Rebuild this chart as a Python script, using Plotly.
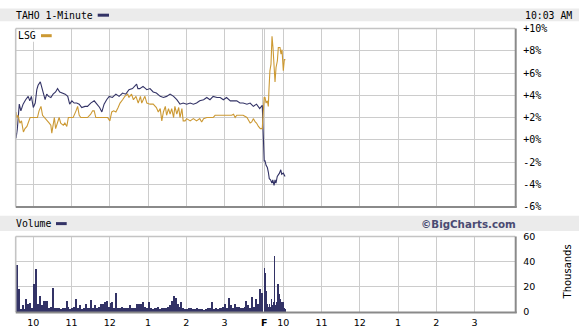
import plotly.graph_objects as go

# ---------------- data ----------------
# x = minutes since Thursday 9:30 (Friday 9:30 = 392)
taho_min = [2.5, 3, 5, 8, 10.5, 14, 18, 22, 24.5, 27, 30, 33, 35.5, 37.5, 41, 43, 46, 48.5, 51, 54,
            57.5, 61, 65, 68, 71.5, 76, 80, 84, 87, 90.5, 94, 98, 102, 106, 111, 115, 120, 125.5, 130,
            134, 137.5, 141, 145, 149, 154, 159.5, 164.5, 170, 175, 180, 185.5, 189, 192, 194, 197,
            202, 208, 213, 218, 223, 229, 234, 239, 244.5, 250, 255, 260, 265, 270.5, 276, 281, 286,
            291, 297, 302, 307, 312, 318, 323, 328, 333, 339, 344, 349, 354, 359, 365, 370, 375, 380,
            385, 389,
            392, 393.3, 395, 397, 398.5, 400, 402, 404, 405.5, 407.5, 409, 410.5, 412.5, 414, 416,
            418, 419.5, 422, 424.7]
taho_pct = [0.6, 0.14, 1.0, 3.2, 2.6, 3.2, 3.6, 3.9, 3.5, 3.9, 2.9, 3.3, 4.5, 4.9, 5.2, 4.8, 4.1, 3.6,
            4.1, 3.9, 3.8, 4.1, 4.3, 4.6, 4.3, 4.2, 4.1, 3.9, 3.2, 3.5, 3.3, 3.3, 3.2, 2.9, 3.0, 3.0,
            3.3, 3.5, 3.2, 2.9, 2.5, 3.2, 3.6, 3.9, 3.8, 4.1, 3.9, 4.2, 4.1, 4.5, 4.6, 4.8, 5.0, 4.6,
            4.6, 4.8, 4.5, 4.6, 4.3, 4.2, 3.9, 3.8, 3.9, 4.1, 3.9, 3.6, 3.2, 3.3, 3.2, 3.3, 3.2, 3.3,
            3.5, 3.6, 3.8, 3.6, 3.9, 3.8, 3.8, 3.6, 3.8, 3.5, 3.5, 3.5, 3.3, 3.3, 3.2, 3.3, 3.0, 3.2,
            2.8, 3.1,
            -1.9, -1.9, -2.3, -2.5, -2.9, -3.5, -3.6, -3.9, -3.6, -4.1, -3.6, -3.9, -3.3, -3.2, -3.0,
            -2.7, -3.1, -3.0, -3.3]

lsg_min = [2.5, 3, 4, 6, 9, 11.5, 14.5, 17, 20, 22.5, 25, 29, 32.5, 36.5, 39, 42, 44.5, 47, 49.5, 52,
           55, 57.5, 59, 61, 63, 65, 68, 70.5, 73, 77, 79.5, 82.5, 85, 89, 92.5, 97, 99.5, 102, 104.5,
           110, 115, 120, 123, 125.5, 128, 133, 141, 146.5, 150, 153, 156, 159.5, 163, 166, 170,
           173.5, 178, 180, 184, 187, 191, 194.5, 198, 200, 204, 205, 208, 213, 218, 223, 226, 229,
           231.5, 234, 237, 239, 242, 244.5, 247, 250, 252, 255, 258, 260, 263, 265, 268, 270.5, 276,
           281, 286, 291, 294, 297, 302, 312, 315, 320, 328, 333, 341, 344, 346.5, 349, 354, 359, 365,
           370, 372.5, 375, 378, 380, 383, 386, 389,
           392, 393.3, 395, 397, 398.5, 399.5, 401, 402.7, 404.3, 405.8, 407.4, 409, 410.6, 412.7,
           414.2, 416.8, 418.4, 420, 422, 423.6, 425.2]
lsg_pct = [1.3, 2.5, 2.0, 2.2, 1.5, 1.7, 0.7, 1.0, 1.2, 1.7, 2.0, 2.0, 2.0, 2.0, 2.6, 3.0, 2.2, 2.0, 1.9,
           1.7, 1.5, 1.3, 0.6, 1.5, 2.0, 1.0, 1.7, 2.0, 1.5, 1.3, 1.5, 1.2, 2.0, 2.0, 2.0, 2.6, 3.0,
           2.2, 2.0, 2.0, 2.0, 2.3, 2.6, 2.6, 2.0, 2.0, 2.0, 2.0, 1.7, 2.5, 2.6, 2.5, 2.9, 3.3, 3.6,
           3.9, 4.1, 3.8, 4.1, 3.6, 3.9, 3.3, 3.9, 3.3, 3.8, 3.9, 3.3, 3.2, 3.2, 2.9, 2.5, 2.8, 1.7,
           2.5, 3.0, 2.2, 2.8, 2.3, 2.8, 2.0, 3.0, 2.3, 2.9, 2.0, 2.8, 1.7, 1.7, 1.9, 1.7, 1.9, 1.7,
           1.9, 1.6, 1.9, 2.0, 2.0, 2.2, 2.2, 2.2, 2.2, 2.2, 2.3, 2.0, 2.2, 2.2, 2.2, 2.0, 1.5, 1.6,
           1.9, 1.6, 1.5, 1.2, 1.0, 1.0,
           3.8, 3.8, 3.3, 3.5, 3.0, 4.5, 6.2, 6.8, 9.3, 8.3, 6.5, 5.2, 6.5, 7.1, 8.3, 8.3, 7.7, 8.1,
           6.2, 7.2, 7.2]

# volume (thousands)
vol_thu_min = list(range(4, 389, 3))
vol_thu = [37, 18, 2, 5, 2, 10, 6, 7, 3, 22, 34, 6, 12.5, 5, 8.5, 8.5, 8.5, 3, 4, 19, 3, 2.5, 3, 2,
           2.5, 3, 8.5, 3.5, 2, 2.5, 4, 10, 3, 5, 2, 3, 5.7, 2.5, 3, 9.3, 3, 5, 2.5, 4, 6.4, 5.7, 7.5,
           8.5, 4, 6.8, 7.5, 3, 15, 3, 2.5, 3.5, 2.5, 3, 2.5, 5, 3, 2.5, 3, 6.4, 5.7, 6.4, 7.5, 4, 3,
           7.5, 2.5, 2, 2.5, 3, 3.5, 2, 3, 2.5, 3, 4, 5, 8.5, 12.5, 10.6, 6.4, 4, 7.5, 3, 2.4, 2, 2.5,
           3, 2.4, 2, 3, 2, 1.7, 2, 1.5, 2, 2.5, 3, 7.5, 2.4, 3, 2, 3, 2.5, 4, 6.4, 3, 10.7, 5, 3, 6.4,
           4, 3.5, 2.5, 3, 4, 8.2, 5, 3, 11.5, 4, 10, 6.4, 17.8, 15]
vol_fri_min = list(range(392, 426))
vol_fri = [35, 31, 16.5, 5, 5, 6.4, 3.5, 4, 6.4, 3, 4, 10, 5, 3, 8, 6, 44, 3.5, 5, 7.5, 4, 21.6, 17,
           14, 10, 8.5, 6, 7.5, 5, 7.5, 2.4, 3, 2, 2]

grid_min = [30, 90, 150, 210, 270, 330, 390, 392, 422, 482, 542, 602, 662, 722]
grid_lbl = ["10", "11", "12", "1", "2", "3", "", "<b>F</b>", "10", "11", "12", "1", "2", "3"]
pct_ticks = [-6, -4, -2, 0, 2, 4, 6, 8, 10]
pct_lbls = ["-6%", "-4%", "-2%", "+0%", "+2%", "+4%", "+6%", "+8%", "+10%"]
vol_ticks = [0, 20, 40, 60]

# ---------------- layout helpers ----------------
W, H = 579, 335
def px(x):
    return x / W
def py(y):
    return 1 - y / H

NAVY = "#333366"
GOLD = "#cc9933"
GRID = "#cccccc"
MONO = "DejaVu Sans Mono"
SANS = "DejaVu Sans"

PL, PR = 15.7, 515.2
P_T, P_B = 23.3, 207.3
V_T, V_B = 238.3, 316.5
XR = [2.4, 785.6]

fig = go.Figure()
fig.add_trace(go.Scatter(x=taho_min, y=taho_pct, mode="lines", line=dict(color=NAVY, width=1.1),
                         xaxis="x", yaxis="y", hoverinfo="skip"))
fig.add_trace(go.Scatter(x=lsg_min, y=lsg_pct, mode="lines", line=dict(color=GOLD, width=1.1),
                         xaxis="x", yaxis="y", hoverinfo="skip"))
fig.add_trace(go.Bar(x=vol_thu_min, y=vol_thu, width=2.2, marker=dict(color=NAVY, line=dict(width=0)),
                     xaxis="x2", yaxis="y2", hoverinfo="skip"))
fig.add_trace(go.Bar(x=vol_fri_min, y=vol_fri, width=0.9, marker=dict(color=NAVY, line=dict(width=0)),
                     xaxis="x2", yaxis="y2", hoverinfo="skip"))

axis_common = dict(showline=False, zeroline=False, showgrid=True, gridcolor=GRID, gridwidth=1)

shapes = []
def rect(x0, y0, x1, y1, fill, line=None, layer="below"):
    shapes.append(dict(type="rect", xref="paper", yref="paper", x0=px(x0), x1=px(x1),
                       y0=py(y0), y1=py(y1), fillcolor=fill,
                       line=line or dict(width=0), layer=layer))
def seg(x0, y0, x1, y1, color, width, layer="above"):
    shapes.append(dict(type="line", xref="paper", yref="paper", x0=px(x0), x1=px(x1),
                       y0=py(y0), y1=py(y1), line=dict(color=color, width=width), layer=layer))

# header bands
rect(0, 2.7, W, 15.7, "#ebebeb")
rect(0, 217, W, 232.7, "#ebebeb")
# legend dashes
seg(97.7, 9.5, 109, 9.5, NAVY, 3)
seg(56, 225, 66.7, 225, NAVY, 3)
# LSG legend background
rect(16.5, 24.3, 56, 37, "white", layer="above")
seg(41, 30.7, 51.7, 30.7, GOLD, 3)
# frames
for (t, b) in [(P_T, P_B), (V_T, V_B)]:
    seg(PL, t, PR, t, "#c4c4c4", 1.6)
    seg(PL, t, PL, b, "#c4c4c4", 1.6)
    seg(PR + 0.5, t, PR + 0.5, b + 1, "#8a8a8a", 2)
    seg(PL, b + 0.5, PR + 1.5, b + 0.5, "#8a8a8a", 2)

annotations = [
    dict(text="TAHO 1-Minute", x=px(16), y=py(9.4), xanchor="left", yanchor="middle",
         font=dict(family=MONO, size=9.8, color="black")),
    dict(text="10:03 AM", x=px(572), y=py(9.4), xanchor="right", yanchor="middle",
         font=dict(family=MONO, size=9.8, color="black")),
    dict(text="LSG", x=px(18.3), y=py(30.7), xanchor="left", yanchor="middle",
         font=dict(family=MONO, size=9.8, color="black")),
    dict(text="Volume", x=px(16), y=py(225.2), xanchor="left", yanchor="middle",
         font=dict(family=MONO, size=9.8, color="black")),
    dict(text="<b>©BigCharts.com</b>", x=px(515.5), y=py(225), xanchor="right", yanchor="middle",
         font=dict(family=SANS, size=10.3, color="#4a4a72")),
    dict(text="Thousands", x=px(567.5), y=py(275), xanchor="center", yanchor="middle", textangle=-90,
         font=dict(family=SANS, size=10, color="black")),
]
for a in annotations:
    a.update(xref="paper", yref="paper", showarrow=False, borderpad=0, borderwidth=0)

fig.update_layout(
    width=W, height=H, margin=dict(l=0, r=0, t=0, b=0),
    paper_bgcolor="white", plot_bgcolor="white", showlegend=False, bargap=0,
    xaxis=dict(domain=[px(PL), px(PR)], range=XR, tickvals=grid_min, showticklabels=False,
               anchor="y", ticks="", **axis_common),
    yaxis=dict(domain=[py(P_B), py(P_T)], range=[-6, 10], tickvals=pct_ticks, ticktext=pct_lbls,
               side="right", anchor="x", ticks="", ticklabelstandoff=7,
               tickfont=dict(family=MONO, size=10, color="black"), **axis_common),
    xaxis2=dict(domain=[px(PL), px(PR)], range=XR, tickvals=grid_min, ticktext=grid_lbl,
                anchor="y2", ticks="", ticklabelstandoff=3,
                tickfont=dict(family=SANS, size=9.5, color="black"), **axis_common),
    yaxis2=dict(domain=[py(V_B), py(V_T)], range=[0, 60], tickvals=vol_ticks,
                side="right", anchor="x2", ticks="", ticklabelstandoff=7,
                tickfont=dict(family=SANS, size=9.5, color="black"), **axis_common),
    shapes=shapes, annotations=annotations,
)

fig.write_html("out.html")
